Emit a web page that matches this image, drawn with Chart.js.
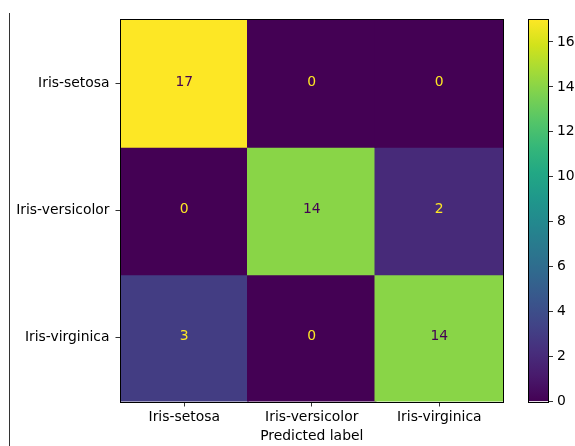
<!DOCTYPE html>
<html>
<head>
<meta charset="utf-8">
<title>Iris confusion matrix</title>
<script src="https://cdn.jsdelivr.net/npm/chart.js@4.4.1/dist/chart.umd.min.js"></script>
<style>
  html, body { margin: 0; padding: 0; background: #fff; }
  #wrap { position: relative; width: 575px; height: 446px; }
  #wrap canvas { position: absolute; left: 0; top: 0; }
</style>
</head>
<body>
<div id="wrap">
  <canvas id="matrix" width="575" height="446"></canvas>
  <canvas id="colorbar" width="575" height="446"></canvas>
</div>
<script>
// Class names (true label rows, predicted label columns)
const classNames = ['Iris-setosa', 'Iris-versicolor', 'Iris-virginica'];

// Confusion-matrix counts, one array per true label
const rowSetosa     = [17, 0, 0];
const rowVersicolor = [0, 14, 2];
const rowVirginica  = [3, 0, 14];

// Colorbar tick values
const colorbarTicks = [0, 2, 4, 6, 8, 10, 12, 14, 16];

const counts = [rowSetosa, rowVersicolor, rowVirginica];
const allValues = counts.flat();
const vmin = Math.min(...allValues);
const vmax = Math.max(...allValues);
const thresh = (vmin + vmax) / 2;

// Viridis colormap, 16 evenly spaced samples
const viridisStops = ['#440154', '#481A6C', '#472F7D', '#414487', '#39568C', '#31688E',
  '#2A788E', '#23888E', '#1F988B', '#22A884', '#35B779', '#54C568', '#7AD151',
  '#A5DB36', '#D2E21B', '#FDE725'];

function hexToRgb(h) {
  return [parseInt(h.slice(1, 3), 16), parseInt(h.slice(3, 5), 16), parseInt(h.slice(5, 7), 16)];
}

function viridis(t) {
  t = Math.max(0, Math.min(1, t));
  const pos = t * (viridisStops.length - 1);
  const i = Math.min(Math.floor(pos), viridisStops.length - 2);
  const f = pos - i;
  const a = hexToRgb(viridisStops[i]);
  const b = hexToRgb(viridisStops[i + 1]);
  const c = a.map((v, k) => Math.round(v + (b[k] - v) * f));
  return `rgb(${c[0]}, ${c[1]}, ${c[2]})`;
}

const FONT = { family: '"DejaVu Sans", sans-serif', size: 13.9 };
const TEXT = '#000';
const TICK = '#333';

// Value annotations centred in each cell
const cellText = {
  id: 'cellText',
  afterDatasetsDraw(chart) {
    const ctx = chart.ctx;
    ctx.save();
    ctx.font = `${FONT.size}px ${FONT.family}`;
    ctx.textAlign = 'center';
    ctx.textBaseline = 'middle';
    counts.forEach((row, r) => {
      chart.getDatasetMeta(r).data.forEach((bar, c) => {
        const v = row[c];
        ctx.fillStyle = v < thresh ? viridis(1) : viridis(0);
        ctx.fillText(String(v), bar.x, (bar.y + bar.base) / 2 - 1);
      });
    });
    ctx.restore();
  }
};

// Black frame around a chart area
const frame = {
  id: 'frame',
  afterDraw(chart) {
    const a = chart.chartArea;
    const ctx = chart.ctx;
    ctx.save();
    ctx.strokeStyle = '#000';
    ctx.lineWidth = 1;
    ctx.strokeRect(Math.round(a.left) - 0.5, Math.round(a.top) - 0.5,
      Math.round(a.right) - Math.round(a.left) + 1, Math.round(a.bottom) - Math.round(a.top) + 1);
    ctx.restore();
  }
};

// Thin vertical rule along the left edge of the figure
const edgeRule = {
  id: 'edgeRule',
  afterDraw(chart) {
    const ctx = chart.ctx;
    ctx.save();
    ctx.fillStyle = '#333';
    ctx.fillRect(9, 13, 1, chart.height - 13);
    ctx.restore();
  }
};

new Chart(document.getElementById('matrix'), {
  type: 'bar',
  data: {
    labels: classNames,
    datasets: counts.map((row, r) => ({
      label: classNames[r],
      data: row.map(() => [r, r + 1]),
      backgroundColor: row.map(v => viridis((v - vmin) / (vmax - vmin))),
      borderWidth: 0,
      inflateAmount: 1,
      barPercentage: 1,
      categoryPercentage: 1
    }))
  },
  options: {
    responsive: false,
    animation: false,
    devicePixelRatio: 1,
    layout: { padding: { left: 0, right: 72, top: 19.5, bottom: 0 } },
    plugins: { legend: { display: false }, tooltip: { enabled: false } },
    scales: {
      x: {
        stacked: true,
        grid: { display: true, drawOnChartArea: false, drawTicks: true, tickLength: 5, offset: false, color: TICK },
        border: { display: false },
        ticks: { font: FONT, color: TEXT, padding: 3, maxRotation: 0, autoSkip: false },
        title: { display: true, text: 'Predicted label', font: FONT, color: TEXT, padding: { top: 0, bottom: 1 } },
        afterFit(s) { s.height = 44.5; }
      },
      y: {
        type: 'linear',
        stacked: false,
        min: 0,
        max: 3,
        reverse: true,
        afterBuildTicks(s) { s.ticks = classNames.map((_, i) => ({ value: i + 0.5 })); },
        ticks: { font: FONT, color: TEXT, padding: 6, callback: (v, i) => classNames[i] },
        grid: { display: true, drawOnChartArea: false, drawTicks: true, tickLength: 5, color: TICK },
        border: { display: false },
        afterFit(s) { s.width = 120.5; }
      }
    }
  },
  plugins: [cellText, frame, edgeRule]
});

new Chart(document.getElementById('colorbar'), {
  type: 'bar',
  data: {
    labels: ['count'],
    datasets: [{
      data: [[vmin, vmax]],
      backgroundColor(c) {
        const a = c.chart.chartArea;
        if (!a || !isFinite(a.top) || !isFinite(a.bottom)) return viridis(0.5);
        const g = c.chart.ctx.createLinearGradient(0, a.bottom, 0, a.top);
        viridisStops.forEach((col, i) => g.addColorStop(i / (viridisStops.length - 1), col));
        return g;
      },
      borderWidth: 0,
      barPercentage: 1,
      categoryPercentage: 1
    }]
  },
  options: {
    responsive: false,
    animation: false,
    devicePixelRatio: 1,
    layout: { padding: { left: 529, right: 0, top: 19.5, bottom: 44.5 } },
    plugins: { legend: { display: false }, tooltip: { enabled: false } },
    scales: {
      x: { display: false },
      y: {
        position: 'right',
        min: vmin,
        max: vmax,
        afterBuildTicks(s) { s.ticks = colorbarTicks.map(v => ({ value: v })); },
        ticks: { font: FONT, color: TEXT, padding: 4 },
        grid: { display: true, drawOnChartArea: false, drawTicks: true, tickLength: 5, color: TICK },
        border: { display: false },
        afterFit(s) { s.width = 27; }
      }
    }
  },
  plugins: [frame]
});
</script>
</body>
</html>
